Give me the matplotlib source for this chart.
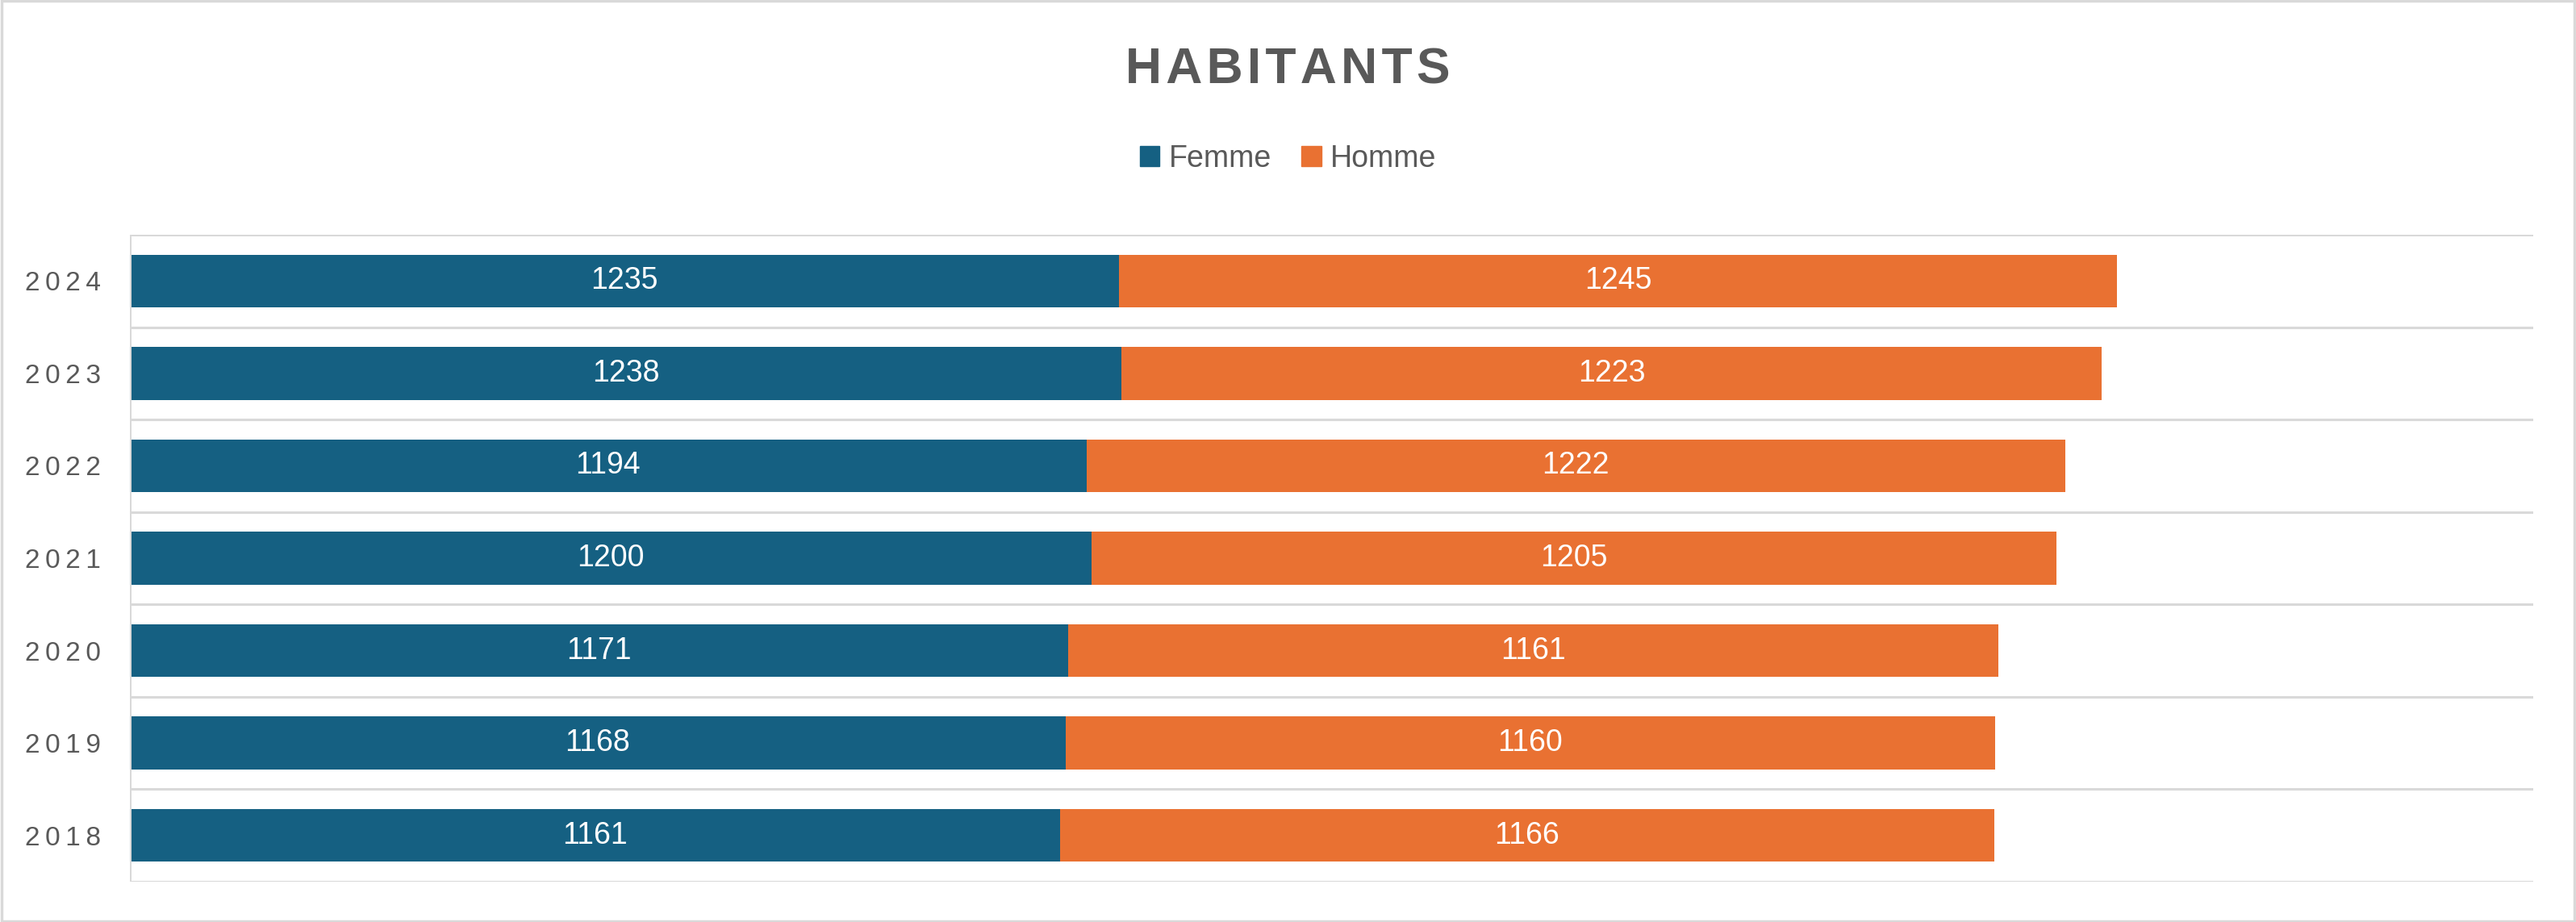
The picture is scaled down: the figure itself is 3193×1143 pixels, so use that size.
import matplotlib
matplotlib.use("Agg")
import matplotlib.pyplot as plt
from matplotlib import font_manager
from matplotlib.patches import Patch, Rectangle

# data
years = ["2018", "2019", "2020", "2021", "2022", "2023", "2024"]
femme = [1161, 1168, 1171, 1200, 1194, 1238, 1235]
homme = [1166, 1160, 1161, 1205, 1222, 1223, 1245]

blue = "#156082"
orange = "#E97132"
grey_text = "#595959"
grid_col = "#D9D9D9"

names = [f.name for f in font_manager.fontManager.ttflist]
narrow = "Liberation Sans Narrow" if "Liberation Sans Narrow" in names else "Liberation Sans"

fig = plt.figure(figsize=(31.93, 11.43), dpi=100)
ax = fig.add_axes([161 / 3193, 1 - 1093 / 1143, (3140 - 161) / 3193, (1093 - 291) / 1143])

ypos = range(len(years))
ax.barh(ypos, femme, height=0.57, color=blue, label="Femme")
ax.barh(ypos, homme, left=femme, height=0.57, color=orange, label="Homme")

# white value labels in the middle of each segment
for i in ypos:
    ax.text(femme[i] / 2, i, str(femme[i]), ha="center", va="center",
            color="white", fontsize=27, family="Liberation Sans")
    ax.text(femme[i] + homme[i] / 2, i, str(homme[i]), ha="center", va="center",
            color="white", fontsize=27, family="Liberation Sans")

ax.set_xlim(0, 3000)
ax.set_ylim(-0.5, len(years) - 0.5)

# category gridlines between rows
for b in range(len(years) + 1):
    ax.axhline(b - 0.5, color=grid_col, lw=2.2, zorder=0)
ax.axvline(0, color=grid_col, lw=2.2, zorder=3)

for s in ax.spines.values():
    s.set_visible(False)
ax.set_xticks([])
ax.set_yticks(list(ypos))
ax.set_yticklabels(["\u2009".join(y) for y in years],
                   fontsize=24, color=grey_text, family=["Liberation Sans", "DejaVu Sans"])
ax.tick_params(axis="y", length=0, pad=26)

fig.text(0.5, 1 - 104 / 1143, "\u200a".join("HABITANTS"), ha="center", va="baseline",
         fontsize=45, fontweight="bold", color=grey_text, family=[narrow, "DejaVu Sans"])

handles = [Patch(color=blue, label="Femme"), Patch(color=orange, label="Homme")]
fig.legend(handles=handles, loc="center", bbox_to_anchor=(0.5, 1 - 197 / 1143), ncol=2,
           frameon=False, handlelength=0.65, handleheight=0.65, handletextpad=0.3,
           columnspacing=1.0, prop={"family": narrow, "size": 27}, labelcolor=grey_text)

# light border around the whole chart
fig.patches.append(Rectangle((0.0005, 0.001), 0.999, 0.998, transform=fig.transFigure,
                             fill=False, edgecolor=grid_col, lw=2.5))

fig.savefig("out.png", dpi=100)
